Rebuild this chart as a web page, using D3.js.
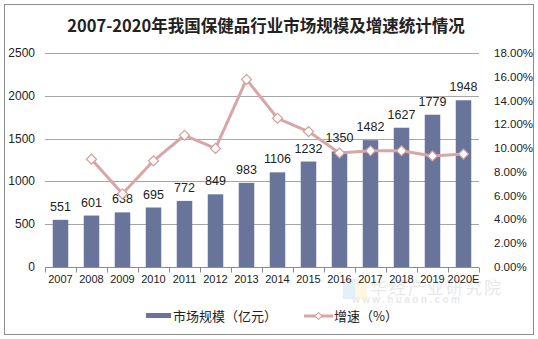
<!DOCTYPE html>
<html>
<head>
<meta charset="utf-8">
<script src="https://cdn.jsdelivr.net/npm/d3@7"></script>
<style>
  body { margin: 0; background: #fff; }
  svg text { font-family: "Liberation Sans", Arial, sans-serif; }
  .cjk { font-family: "Noto Sans CJK SC", "Noto Sans", sans-serif; }
</style>
</head>
<body>
<script>
var years = ['2007', '2008', '2009', '2010', '2011', '2012', '2013', '2014', '2015', '2016', '2017', '2018', '2019', '2020E']
var marketSize = [551, 601, 638, 695, 772, 849, 983, 1106, 1232, 1350, 1482, 1627, 1779, 1948]
// growth rate in %, first year has none
var growth = [null, 9.07, 6.16, 8.93, 11.08, 9.97, 15.78, 12.51, 11.39, 9.58, 9.78, 9.78, 9.34, 9.50]
var leftTicks = [0, 500, 1000, 1500, 2000, 2500]
var rightTicks = [0, 2, 4, 6, 8, 10, 12, 14, 16, 18]

var width = 538
var height = 339
var margin = { left: 45, right: 59, top: 53, bottom: 72 }
var barColor = '#68749a'
var lineColor = '#d8a6a6'

var svg = d3.select('body').append('svg')
  .attr('width', width)
  .attr('height', height)

// outer frame
svg.append('rect')
  .attr('x', 4.5).attr('y', 4.5)
  .attr('width', 529).attr('height', 330)
  .attr('fill', '#fff')
  .attr('stroke', '#8c8c8c')

svg.append('text')
  .attr('class', 'cjk')
  .attr('x', 266).attr('y', 32)
  .attr('text-anchor', 'middle')
  .attr('font-size', 16.5)
  .attr('font-weight', 'bold')
  .attr('fill', '#222')
  .text('2007-2020年我国保健品行业市场规模及增速统计情况')

var x = d3.scaleBand()
  .domain(years)
  .range([margin.left, width - margin.right])
  .paddingInner(0.5)
  .paddingOuter(0.25)

var yL = d3.scaleLinear().domain([0, 2500]).range([height - margin.bottom, margin.top])
var yR = d3.scaleLinear().domain([0, 18]).range([height - margin.bottom, margin.top])

// gridlines
svg.append('g').selectAll('line')
  .data(leftTicks.slice(1))
  .enter().append('line')
  .attr('x1', margin.left).attr('x2', width - margin.right)
  .attr('y1', d => Math.round(yL(d)) + 0.5)
  .attr('y2', d => Math.round(yL(d)) + 0.5)
  .attr('stroke', '#a6a6a6')

// left axis labels
svg.append('g').selectAll('text')
  .data(leftTicks)
  .enter().append('text')
  .attr('x', 35).attr('y', d => yL(d) + 4)
  .attr('text-anchor', 'end')
  .attr('font-size', 12)
  .attr('fill', '#222')
  .text(d => d)

// right axis labels
svg.append('g').selectAll('text')
  .data(rightTicks)
  .enter().append('text')
  .attr('x', 494).attr('y', d => yR(d) + 4)
  .attr('font-size', 11.5)
  .attr('fill', '#222')
  .text(d => d3.format('.2f')(d) + '%')

// bars
svg.append('g').selectAll('rect')
  .data(marketSize)
  .enter().append('rect')
  .attr('x', (d, i) => x(years[i]))
  .attr('width', x.bandwidth())
  .attr('y', d => yL(d))
  .attr('height', d => yL(0) - yL(d))
  .attr('fill', barColor)

// bar value labels
svg.append('g').selectAll('text')
  .data(marketSize)
  .enter().append('text')
  .attr('x', (d, i) => x(years[i]) + x.bandwidth() / 2)
  .attr('y', d => yL(d) - 9)
  .attr('text-anchor', 'middle')
  .attr('font-size', 12.5)
  .attr('fill', '#222')
  .text(d => d)

// x axis line and ticks between categories
var base = Math.round(yL(0)) + 0.5
svg.append('line')
  .attr('x1', margin.left).attr('x2', width - margin.right)
  .attr('y1', base).attr('y2', base)
  .attr('stroke', '#8c8c8c')
var bounds = years.map(d => x(d) - x.step() * 0.25).concat([width - margin.right])
svg.append('g').selectAll('line')
  .data(bounds)
  .enter().append('line')
  .attr('x1', d => Math.round(d) + 0.5).attr('x2', d => Math.round(d) + 0.5)
  .attr('y1', base).attr('y2', base + 5)
  .attr('stroke', '#8c8c8c')

// watermark, kept faint and under the axis labels
var wm = svg.append('g').attr('opacity', 0.3)
wm.append('rect').attr('x', 343).attr('y', 279).attr('width', 12).attr('height', 20).attr('fill', '#a9cbf2')
wm.append('rect').attr('x', 355).attr('y', 279).attr('width', 12).attr('height', 20).attr('fill', '#f6e7a8')
wm.append('text').attr('class', 'cjk')
  .attr('x', 370).attr('y', 294).attr('font-size', 17).attr('fill', '#b5b5b5')
  .attr('letter-spacing', 2)
  .text('华经产业研究院')
wm.append('text')
  .attr('x', 352).attr('y', 303).attr('font-size', 10).attr('font-weight', 'bold').attr('fill', '#b5b5b5')
  .attr('letter-spacing', 2.4)
  .text('www.huaon.com')

svg.append('g').selectAll('text')
  .data(years)
  .enter().append('text')
  .attr('x', d => x(d) + x.bandwidth() / 2)
  .attr('y', 283)
  .attr('text-anchor', 'middle')
  .attr('font-size', 11)
  .attr('fill', '#222')
  .text(d => d)

// growth line
var pts = growth.map((g, i) => ({ year: years[i], g: g })).filter(d => d.g !== null)
var line = d3.line()
  .x(d => x(d.year) + x.bandwidth() / 2)
  .y(d => yR(d.g))
svg.append('path')
  .datum(pts)
  .attr('d', line)
  .attr('fill', 'none')
  .attr('stroke', lineColor)
  .attr('stroke-width', 3)
  .attr('stroke-linejoin', 'round')

var diamond = d3.symbol().type(d3.symbolSquare).size(50)
svg.append('g').selectAll('path')
  .data(pts)
  .enter().append('path')
  .attr('d', diamond)
  .attr('transform', d => 'translate(' + (x(d.year) + x.bandwidth() / 2) + ',' + yR(d.g) + ') rotate(45)')
  .attr('fill', '#fff')
  .attr('stroke', '#d99c9c')
  .attr('stroke-width', 1.2)

// legend
var lg = svg.append('g')
lg.append('rect').attr('x', 146).attr('y', 313).attr('width', 25).attr('height', 5).attr('fill', barColor)
lg.append('text').attr('class', 'cjk')
  .attr('x', 173).attr('y', 321).attr('font-size', 13).attr('fill', '#222')
  .text('市场规模（亿元）')
lg.append('line').attr('x1', 304).attr('x2', 333).attr('y1', 316).attr('y2', 316)
  .attr('stroke', lineColor).attr('stroke-width', 3)
lg.append('path').attr('d', d3.symbol().type(d3.symbolSquare).size(24))
  .attr('transform', 'translate(318.5,316) rotate(45)')
  .attr('fill', '#fff').attr('stroke', '#d99c9c')
lg.append('text').attr('class', 'cjk')
  .attr('x', 334).attr('y', 321).attr('font-size', 13).attr('fill', '#222')
  .text('增速（%）')
</script>
</body>
</html>
